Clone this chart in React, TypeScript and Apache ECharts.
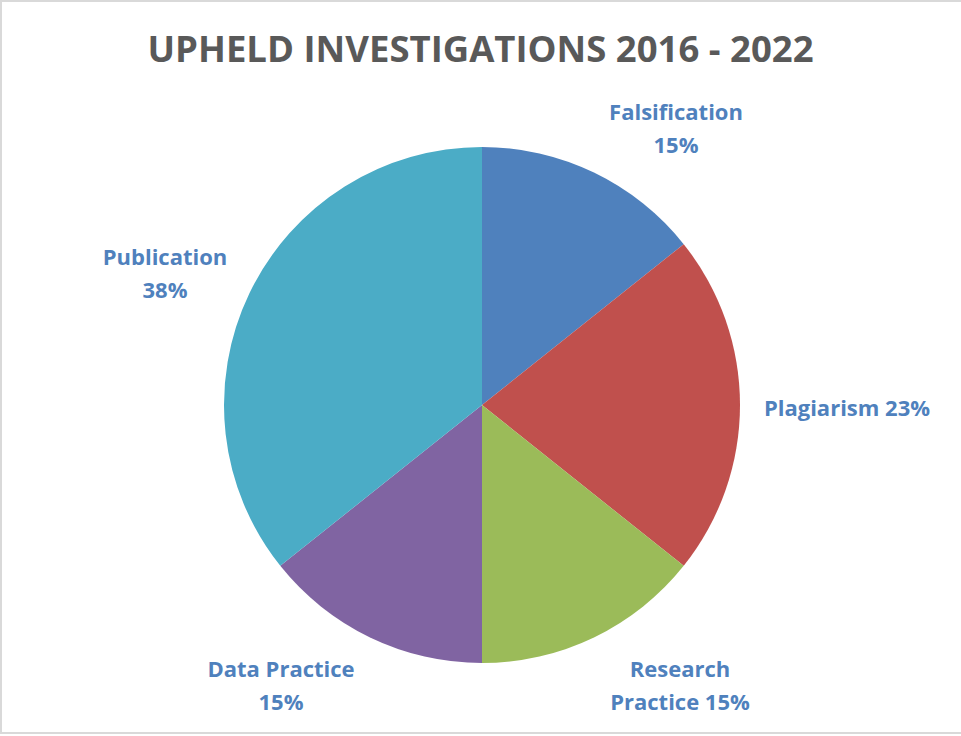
import React, { useEffect, useRef } from "react";
import * as echarts from "echarts";

const TITLE = "UPHELD INVESTIGATIONS 2016 - 2022";
const categories = ["Falsification", "Plagiarism", "Research Practice", "Data Practice", "Publication"];
const values = [2, 3, 2, 2, 5];
const percentLabels = ["15%", "23%", "15%", "15%", "38%"];
const colors = ["#4F81BD", "#C0504D", "#9BBB59", "#8064A2", "#4BACC6"];

// label text display variants (line breaks) and label centres
const labelTexts = [
  `${categories[0]}\n${percentLabels[0]}`,
  `${categories[1]} ${percentLabels[1]}`,
  `Research\nPractice ${percentLabels[2]}`,
  `${categories[3]}\n${percentLabels[3]}`,
  `${categories[4]}\n${percentLabels[4]}`,
];
const labelPos: [number, number][] = [
  [676, 127],
  [847, 407],
  [680, 684],
  [281, 684],
  [165, 272],
];

export default function App() {
  const ref = useRef<HTMLDivElement>(null);
  useEffect(() => {
    document.body.style.margin = "0";
    if (!ref.current) return;
    const chart = echarts.init(ref.current, null, { renderer: "svg" });
    chart.setOption({
      animation: false,
      backgroundColor: "#ffffff",
      title: {
        text: TITLE,
        left: "center",
        top: 24,
        textStyle: {
          fontFamily: "Open Sans",
          fontWeight: "bold",
          fontSize: 36.5,
          color: "#595959",
        },
      },
      graphic: [
        {
          type: "rect",
          shape: { x: 1, y: 1, width: 980, height: 732 },
          style: { fill: "none", stroke: "#d9d9d9", lineWidth: 2 },
          silent: true,
          z: 100,
        },
      ],
      series: [
        {
          type: "pie",
          center: [482, 405],
          radius: 258,
          startAngle: 90,
          clockwise: true,
          data: categories.map((name, i) => ({
            name,
            value: values[i],
            itemStyle: { color: colors[i] },
          })),
          label: {
            show: true,
            position: "outside",
            formatter: (p: any) => labelTexts[p.dataIndex],
            fontFamily: "Open Sans",
            fontWeight: "bold",
            fontSize: 22,
            lineHeight: 33,
            color: "#4F81BD",
            align: "center",
            overflow: "none",
          },
          labelLine: { show: false },
          labelLayout: (p: any) => ({
            x: labelPos[p.dataIndex][0],
            y: labelPos[p.dataIndex][1],
            align: "center",
            verticalAlign: "middle",
          }),
          emphasis: { disabled: true },
        },
      ],
    });
    return () => chart.dispose();
  }, []);
  return (
    <div
      ref={ref}
      style={{ position: "absolute", left: 0, top: 0, width: 961, height: 736 }}
    />
  );
}
